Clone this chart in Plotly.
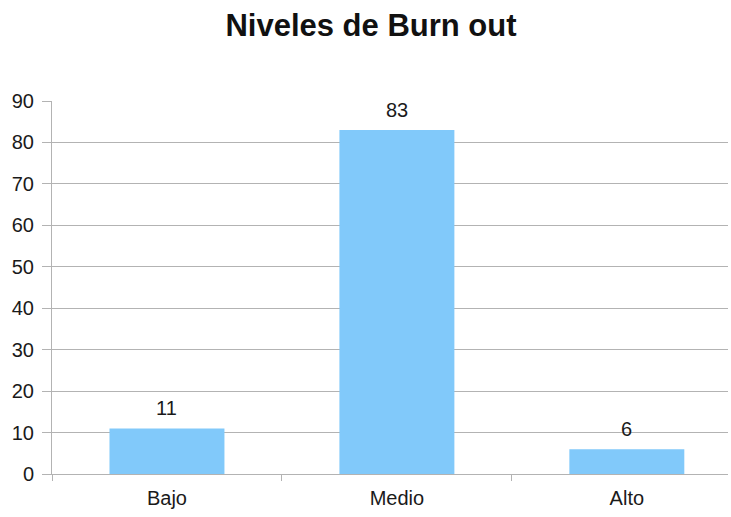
import plotly.graph_objects as go

categories = ["Bajo", "Medio", "Alto"]
values = [11, 83, 6]
title = "Niveles de Burn out"

FONT = "Liberation Sans, Arial"
fig = go.Figure(go.Bar(
    x=categories, y=values, width=0.5,
    marker=dict(color="#81c9fa", line=dict(width=0)),
))
for c, v in zip(categories, values):
    fig.add_annotation(x=c, y=v, text=str(v), showarrow=False, yanchor="bottom",
                       yshift=7, font=dict(family=FONT, size=20, color="#1a1a1a"))
fig.update_layout(
    width=731, height=517,
    margin=dict(l=52, r=3, t=101, b=43),
    paper_bgcolor="white", plot_bgcolor="white",
    title=dict(text="<b>" + title + "</b>", x=0.5075, xanchor="center", y=0.951, yanchor="middle",
               font=dict(family=FONT, size=31, color="#111111")),
    showlegend=False,
    bargap=0.5,
)
fig.update_xaxes(
    type="category", range=[-0.5, 2.44], tickson="boundaries",
    ticks="outside", ticklen=6, tickcolor="#b3b3b3",
    showline=True, linecolor="#b3b3b3", linewidth=1,
    showgrid=False, ticklabelstandoff=6,
    tickfont=dict(family=FONT, size=20, color="#1a1a1a"),
)
fig.update_yaxes(
    range=[0, 90], tickvals=list(range(0, 91, 10)),
    ticks="outside", ticklen=9, tickcolor="#b3b3b3",
    showline=True, linecolor="#b3b3b3", linewidth=1,
    showgrid=True, gridcolor="#b3b3b3", gridwidth=1, zeroline=False,
    ticklabelstandoff=4,
    tickfont=dict(family=FONT, size=20, color="#1a1a1a"),
)
fig.write_html("out.html")
